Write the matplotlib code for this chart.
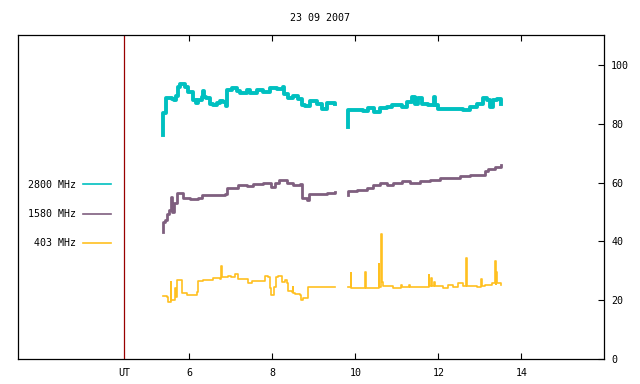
import numpy as np
import matplotlib
matplotlib.use("Agg")
import matplotlib.pyplot as plt
from matplotlib.lines import Line2D

nan = np.nan

# hours UT
t_2800 = [5.373, 5.375, 5.431, 5.583, 5.631, 5.680, 5.728, 5.776, 5.824, 5.896, 5.976,
          6.096, 6.161, 6.217, 6.299, 6.337, 6.349, 6.402, 6.499, 6.578, 6.675, 6.740,
          6.819, 6.884, 6.901, 7.022, 7.142, 7.222, 7.383, 7.463, 7.624, 7.783, 7.945,
          8.106, 8.251, 8.282, 8.386, 8.506, 8.627, 8.708, 8.788, 8.908, 9.070, 9.190,
          9.311, 9.511, 9.512,
          9.831, 9.834, 9.872, 10.034, 10.193, 10.313, 10.451, 10.595, 10.757, 10.877,
          10.998, 11.118, 11.239, 11.359, 11.439, 11.518, 11.600, 11.759, 11.904, 11.920,
          12.000, 12.202, 12.443, 12.602, 12.764, 12.925, 13.084, 13.166, 13.246, 13.325,
          13.407, 13.504]
f_2800 = [76.0, 83.7, 88.7, 88.5, 87.9, 89.5, 92.5, 93.6, 93.5, 92.4, 90.7,
          88.1, 87.0, 88.1, 89.0, 91.0, 89.2, 88.8, 86.8, 86.2, 87.0, 87.7,
          87.3, 86.1, 91.5, 92.2, 91.1, 90.5, 91.3, 90.5, 91.5, 90.7, 92.2,
          91.9, 92.4, 90.2, 88.8, 89.3, 88.5, 86.5, 85.9, 87.7, 86.8, 85.1,
          87.1, 86.8, nan,
          78.9, 84.5, 84.7, 84.5, 84.3, 85.4, 83.9, 85.3, 85.6, 86.5,
          86.2, 85.6, 87.3, 89.0, 86.8, 88.8, 86.8, 86.2, 89.0, 86.5,
          85.1, 85.1, 85.1, 84.7, 85.6, 86.8, 88.8, 87.9, 85.6, 88.1,
          88.5, 86.8]

t_1580 = [5.373, 5.375, 5.414, 5.455, 5.518, 5.559, 5.590, 5.639, 5.696, 5.817, 5.855,
          6.017, 6.217, 6.299, 6.499, 6.699, 6.860, 6.901, 7.060, 7.181, 7.383, 7.542,
          7.783, 7.928, 7.969, 8.065, 8.169, 8.347, 8.506, 8.667, 8.708, 8.829, 8.884,
          9.070, 9.311, 9.511, 9.512,
          9.831, 9.834, 10.034, 10.275, 10.434, 10.595, 10.757, 10.916, 11.118, 11.318,
          11.559, 11.800, 12.041, 12.282, 12.522, 12.764, 13.005, 13.125, 13.205, 13.366,
          13.504]
f_1580 = [43.3, 46.6, 47.2, 49.5, 50.6, 55.1, 50.0, 52.9, 56.6, 56.3, 54.6,
          54.3, 54.9, 55.9, 55.9, 55.9, 56.0, 58.3, 58.3, 59.1, 58.8, 59.4,
          59.9, 60.0, 58.5, 59.9, 60.8, 59.7, 59.1, 59.4, 54.6, 54.0, 56.0,
          56.0, 56.3, 56.8, nan,
          55.7, 57.2, 57.4, 58.2, 59.1, 59.7, 59.1, 59.9, 60.4, 60.0,
          60.4, 60.8, 61.6, 61.6, 62.1, 62.5, 62.7, 63.9, 64.7, 65.3,
          65.9]

t_403 = [5.373, 5.455, 5.494, 5.547, 5.552, 5.559, 5.614, 5.655, 5.672, 5.696, 5.817,
         5.831, 5.937, 6.096, 6.178, 6.217, 6.337, 6.458, 6.578, 6.740, 6.771, 6.795,
         6.940, 6.998, 7.101, 7.181, 7.301, 7.407, 7.504, 7.745, 7.824, 7.904, 7.945,
         7.969, 8.010, 8.048, 8.089, 8.145, 8.227, 8.306, 8.347, 8.386, 8.467, 8.492,
         8.504, 8.547, 8.667, 8.692, 8.733, 8.843, 8.867, 9.070, 9.311, 9.511, 9.512,
         9.831, 9.889, 9.901, 10.241, 10.253, 10.564, 10.576, 10.629, 10.641, 10.667,
         10.916, 11.108, 11.120, 11.301, 11.313, 11.559, 11.776, 11.787, 11.831, 11.843,
         11.904, 11.916, 12.113, 12.241, 12.354, 12.482, 12.595, 12.675, 12.687, 12.925,
         13.036, 13.048, 13.125, 13.287, 13.373, 13.386, 13.398, 13.410, 13.504]
f_403 = [21.6, 21.2, 19.5, 19.3, 26.1, 20.1, 20.1, 24.1, 21.2, 26.9, 26.9,
         22.4, 22.0, 21.8, 22.9, 26.6, 26.9, 26.9, 27.5, 27.1, 31.6, 28.0,
         28.2, 27.8, 28.8, 27.1, 27.2, 26.0, 26.6, 26.6, 28.3, 28.0, 24.1,
         21.8, 21.8, 24.6, 28.0, 28.3, 26.3, 26.9, 25.8, 23.3, 22.7, 24.4,
         22.4, 22.1, 22.0, 20.1, 20.9, 20.9, 24.6, 24.4, 24.6, 24.6, nan,
         24.4, 29.2, 24.2, 29.5, 24.3, 32.3, 24.6, 42.5, 26.1, 24.8,
         24.2, 25.3, 24.4, 25.3, 24.5, 24.6, 28.6, 24.8, 27.5, 25.0,
         26.1, 24.8, 24.3, 25.2, 24.6, 25.8, 25.0, 34.4, 25.0, 24.6,
         27.2, 25.0, 25.3, 25.8, 33.3, 25.5, 29.5, 25.8, 25.2]

labels = ["2800 MHz", "1580 MHz", "403 MHz"]
colors = ["#00c0c0", "#7f5f7f", "#ffc020"]
ut_marker = 4.43
x_ticks = [6, 8, 10, 12, 14]
y_ticks = [0, 20, 40, 60, 80, 100]

plt.rcParams['font.family'] = ['DejaVu Sans Mono']
plt.rcParams['font.size'] = 7.2

fig = plt.figure(figsize=(6.4, 3.84), dpi=100)
ax = fig.add_axes([18.3 / 640, 1 - 359.3 / 384, (604.3 - 18.3) / 640, (359.3 - 35.3) / 384])

ax.plot(t_2800, f_2800, color=colors[0], lw=2.8, drawstyle='steps-post')
ax.plot(t_1580, f_1580, color=colors[1], lw=2.0, drawstyle='steps-post')
ax.plot(t_403, f_403, color=colors[2], lw=1.2, drawstyle='steps-post')
ax.axvline(ut_marker, color="#990000", lw=0.9)

ax.set_xlim(1.88, 16.0)
ax.set_ylim(0, 110)

ax.set_xticks([ut_marker] + x_ticks)
ax.set_xticklabels(["UT"] + [str(v) for v in x_ticks])
ax.tick_params(axis='x', direction='in', length=4, width=0.8, top=True, pad=6)
ax.xaxis.get_major_ticks()[0].tick1line.set_visible(False)
ax.xaxis.get_major_ticks()[0].tick2line.set_visible(False)

ax.yaxis.tick_right()
ax.set_yticks(y_ticks)
ax.tick_params(axis='y', direction='in', length=4, width=0.8, left=False, right=True, pad=5)

for s in ax.spines.values():
    s.set_linewidth(0.9)

handles = [Line2D([], [], color=c, lw=1.2) for c in colors]
ax.legend(handles, labels, loc='upper right', bbox_to_anchor=(110.7 / 640, 1 - 179.5 / 384),
          bbox_transform=fig.transFigure, frameon=False, markerfirst=False,
          handlelength=2.8, handletextpad=0.7, labelspacing=1.95, borderpad=0,
          borderaxespad=0)

fig.text(0.5, 1 - 18 / 384, "23 09 2007", ha='center', va='center')

fig.savefig("out.png", dpi=100)
